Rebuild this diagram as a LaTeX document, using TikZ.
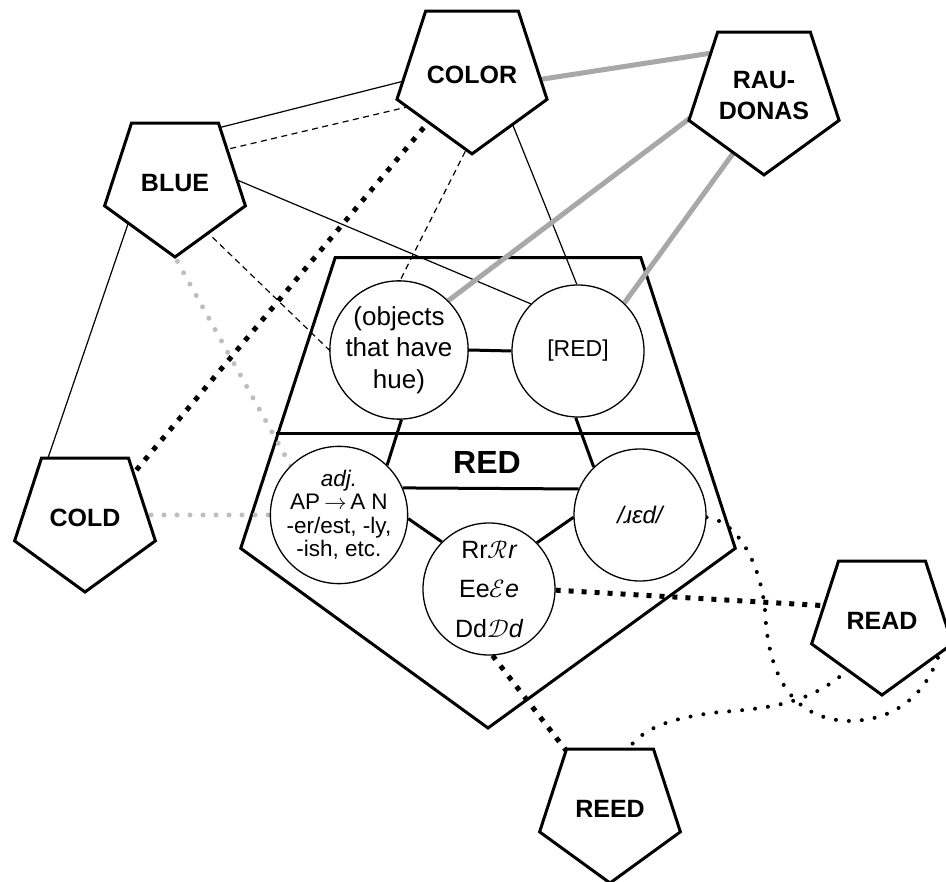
\documentclass[tikz,border=0pt]{standalone}
\usepackage{fontspec}
\usepackage{unicode-math}
\setmainfont{Liberation Sans}
\setmathfont{Latin Modern Math}
\usetikzlibrary{shapes.geometric,calc}
\pgfdeclarelayer{base}
\pgfdeclarelayer{wires}
\pgfsetlayers{base,wires,main}
\definecolor{glinecol}{RGB}{168,168,168}
\definecolor{gdotcol}{RGB}{190,190,190}
\newcommand{\scriptpair}[2]{$\symscr{#1}\mathit{#2}$}
\tikzset{
  pent/.style={regular polygon, regular polygon sides=5, shape border rotate=180,
    minimum size=148pt, inner sep=0pt, draw, line width=3pt, fill=white,
    font=\fontsize{25}{31}\selectfont\bfseries, align=center},
  bubble/.style={circle, draw, line width=1.3pt, fill=white, minimum size=132pt,
    inner sep=0pt, align=center},
  link/.style={line width=1.2pt},
  dlink/.style={line width=1.2pt, dash pattern=on 6pt off 4.5pt},
  glink/.style={line width=5pt, draw=glinecol},
  gdots/.style={line width=5pt, draw=gdotcol, line cap=round, dash pattern=on 0pt off 13pt},
  bdots/.style={line width=5pt, dash pattern=on 5pt off 8pt},
  rdots/.style={line width=4pt, line cap=round, dash pattern=on 0pt off 13pt},
  bond/.style={line width=3pt},
}
\begin{document}
\begin{tikzpicture}[x=1pt, y=-1pt]
\useasboundingbox (0,0) rectangle (946,882);

% outer word pentagons
\node[pent] (color) at (472,75) {COLOR};
\node[pent] (rau) at (764,96) {RAU-\\DONAS};
\node[pent] (blue) at (175,183) {BLUE};
\node[pent] (cold) at (85,518) {COLD};
\node[pent] (read) at (882,621) {READ};
\node[pent] (reed) at (610,809) {REED};

% the big pentagon for RED, with its divider and title
\begin{pgfonlayer}{base}
  \fill[white] (0,0) rectangle (946,882);
  \node[regular polygon, regular polygon sides=5, shape border rotate=180,
        minimum size=520pt, inner sep=0pt, draw, line width=3pt] (redp) at (488,468) {};
  \draw[line width=3pt] ($(redp.corner 4)!0.607!(redp.corner 5)$) -- ($(redp.corner 3)!0.607!(redp.corner 2)$);
  \node[font=\fontsize{32}{38}\selectfont\bfseries] (redtitle) at (487,462) {RED};
\end{pgfonlayer}

% inner facets of RED
\node[bubble, font=\fontsize{26}{31.7}\selectfont] (obj) at (399,350) {(objects\\that have\\hue)};
\node[bubble, font=\fontsize{23}{28}\selectfont] (sem) at (578,351) {[RED]};
\node[bubble, font=\fontsize{22.5}{23.5}\selectfont] (adj) at (339,515) {\itshape adj.\\AP\,$\rightarrow$\,A N\\-er/est, -ly,\\-ish, etc.};
\node[bubble, font=\fontsize{25}{39.5}\selectfont] (glyph) at (489,589) {Rr\scriptpair{R}{r}\\Ee\scriptpair{E}{e}\\Dd\scriptpair{D}{d}};
\node[bubble, font=\fontsize{24}{28}\selectfont\itshape] (ipa) at (640,515) {/ɹɛd/};

\begin{pgfonlayer}{wires}
  % links among the facets
  \draw[bond] (obj.0) -- (sem.180);
  \draw[bond] (obj.-88) -- (adj.46);
  \draw[bond] (sem.-92) -- (ipa.134);
  \draw[bond] (adj.23) -- (ipa.157);
  \draw[bond] (adj.-3) -- (glyph.135);
  \draw[bond] (ipa.182) -- (glyph.44);

  % COLOR and BLUE
  \draw[link] ($(blue)+(35,-53)$) -- ($(color)+(-52,2)$);
  \draw[dlink] ($(blue)+(45,-32)$) -- ($(color)+(-52,29)$);
  % BLUE to the meaning facets
  \draw[link] ($(blue)+(55,-6)$) -- (sem.135);
  \draw[dlink] ($(blue)+(30,47)$) -- (obj.180);
  % COLOR to the meaning facets
  \draw[dlink] ($(color)+(-2,67)$) -- (obj.89);
  \draw[link] ($(color)+(36,38)$) -- (sem.91);
  % BLUE and COLD
  \draw[link] ($(blue)+(-45,35)$) -- ($(cold)+(-37,-60)$);
  % COLOR and COLD
  \draw[bdots] ($(cold)+(43,-38)$) -- ($(color)+(-36,38)$);
  % grammar links
  \draw[gdots] ($(blue)+(-4,67)$) -- ($(adj)+(-36,-27)$);
  \draw[gdots] ($(cold)+(40,-3)$) -- ($(adj)+(-30,0)$);
  % translation
  \draw[glink] ($(color)+(58,6)$) -- ($(rau)+(-39,-45)$);
  \draw[glink] ($(rau)+(-54,7)$) -- (obj.45);
  \draw[glink] ($(rau)+(-19,41)$) -- (sem.46);
  % spelling neighbours
  \draw[bdots] (glyph.-1) -- ($(read)+(-52,-15)$);
  \draw[bdots] (glyph.-87) -- ($(reed)+(-35,-47)$);
  % sound neighbours
  \draw[rdots] (ipa.-2) .. controls (735,520) and (760,560) .. (765,610)
    .. controls (768,680) and (795,720) .. (850,721)
    .. controls (900,720) and (930,690) .. ($(read)+(60,24)$);
  \draw[rdots] ($(reed)+(15,-55)$) .. controls (640,728) and (670,718) .. (720,712)
    .. controls (780,708) and (815,700) .. ($(read)+(-32,47)$);
\end{pgfonlayer}
\end{tikzpicture}
\end{document}
